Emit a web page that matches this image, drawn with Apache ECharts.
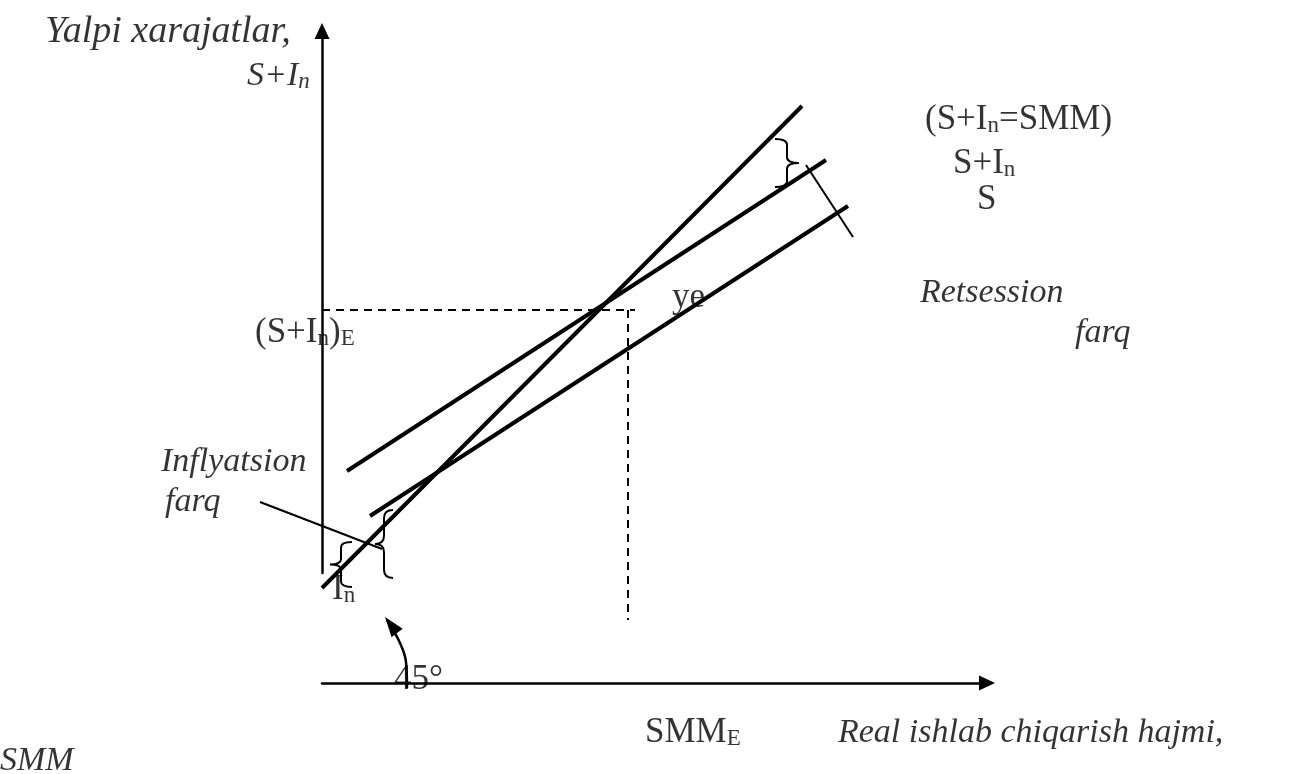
<!DOCTYPE html>
<html>
<head>
<meta charset="utf-8">
<script src="https://cdn.jsdelivr.net/npm/echarts@6/dist/echarts.min.js"></script>
<style>
  html, body { margin: 0; padding: 0; background: #fff; }
  #chart { width: 1311px; height: 774px; }
</style>
</head>
<body>
<div id="chart"></div>
<script>
  // diagram units: 1 unit = 1 px, origin where the axes meet
  const line45 = [[0, 95], [480, 577]];          // S+In = SMM
  const lineSIn = [[25, 212], [504, 523]];        // S+In
  const lineS = [[48, 167], [526, 477]];          // S
  const eqLevel = [[0, 373], [313, 373]];         // (S+In)E
  const eqOutput = [[306, 373], [306, 63]];       // SMM_E
  // thin helper strokes: x1, y1, x2, y2
  const thinStrokes = [[484, 518, 531, 446], [-62, 181, 60, 134]];
  const angleArc = [[85, -5], [84, 21], [78, 40], [65, 63]];
  const angleHead = [[63, 66, 76, 49]];           // tip x, tip y, back x, back y
  // braces: arms x, top y, bottom y, depth of the point
  const braces = [[30, 141, 96, -22], [71, 173, 105, -18], [453, 544, 496, 24]];

  const notes = [
    ['{il|Yalpi xarajatlar,}', -277, 652],
    ['{i|S+I}{is|n}', -75, 610],
    ['{r|(S+I}{rs|n}{r|=SMM)}', 603, 566],
    ['{r|S+I}{rs|n}', 631, 522],
    ['{r|S}', 655, 486],
    ['{r|ye}', 350, 388],
    ['{i|Retsession}', 598, 393],
    ['{i|farq}', 753, 353],
    ['{r|(S+I}{rs|n}{r|)}{rs|E}', -67, 353],
    ['{i|Inflyatsion}', -161, 224],
    ['{i|farq}', -157, 184],
    ['{r|I}{rs|n}', 10, 96],
    ['{r|45°}', 72, 6],
    ['{r|SMM}{rs|E}', 323, -47],
    ['{i|Real ishlab chiqarish hajmi,}', 516, -47],
    ['{i|SMM}', -322, -75]
  ];

  const font = "'Liberation Serif', 'Times New Roman', serif";
  const ink = '#000';

  function straight(name, data, width, type) {
    return {
      name: name,
      type: 'line',
      data: data,
      symbol: 'none',
      clip: false,
      silent: true,
      lineStyle: { color: ink, width: width, type: type || 'solid', cap: 'butt' }
    };
  }

  function txt(size, italic, lh, va) {
    return {
      fontFamily: font,
      fontStyle: italic ? 'italic' : 'normal',
      fontSize: size,
      color: ink,
      lineHeight: lh,
      verticalAlign: va
    };
  }

  let chart = echarts.init(document.getElementById('chart'), null, { renderer: 'canvas' });
  chart.setOption({
    animation: false,
    backgroundColor: '#fff',
    grid: { left: 322, right: 324, top: 31, bottom: 201 },
    xAxis: {
      type: 'value',
      min: 0,
      max: 665,
      offset: 110,
      axisLine: {
        show: true,
        onZero: false,
        symbol: ['none', 'triangle'],
        symbolSize: [15, 16],
        lineStyle: { color: ink, width: 2.5 }
      },
      axisTick: { show: false },
      axisLabel: { show: false },
      splitLine: { show: false }
    },
    yAxis: {
      type: 'value',
      min: 110,
      max: 652,
      axisLine: {
        show: true,
        onZero: false,
        symbol: ['none', 'triangle'],
        symbolSize: [15, 16],
        lineStyle: { color: ink, width: 2.5 }
      },
      axisTick: { show: false },
      axisLabel: { show: false },
      splitLine: { show: false }
    },
    series: [
      straight('45', line45, 4),
      straight('S+In', lineSIn, 4),
      straight('S', lineS, 4),
      straight('eqLevel', eqLevel, 2, [8, 6]),
      straight('eqOutput', eqOutput, 2, [8, 6]),
      Object.assign(straight('arc', angleArc, 2.5), { smooth: 0.4 }),
      {
        type: 'custom',
        silent: true,
        clip: false,
        data: thinStrokes,
        renderItem: function (params, api) {
          let a = api.coord([api.value(0), api.value(1)]);
          let b = api.coord([api.value(2), api.value(3)]);
          return {
            type: 'line',
            shape: { x1: a[0], y1: a[1], x2: b[0], y2: b[1] },
            style: { stroke: ink, lineWidth: 2 }
          };
        }
      },
      {
        type: 'custom',
        silent: true,
        clip: false,
        data: angleHead,
        renderItem: function (params, api) {
          let tip = api.coord([api.value(0), api.value(1)]);
          let back = api.coord([api.value(2), api.value(3)]);
          let dx = tip[0] - back[0], dy = tip[1] - back[1];
          let len = Math.sqrt(dx * dx + dy * dy);
          let ux = dx / len, uy = dy / len;
          let bx = tip[0] - ux * 20, by = tip[1] - uy * 20;
          return {
            type: 'polygon',
            shape: { points: [tip, [bx - uy * 7, by + ux * 7], [bx + uy * 7, by - ux * 7]] },
            style: { fill: ink }
          };
        }
      },
      {
        type: 'custom',
        silent: true,
        clip: false,
        data: braces,
        renderItem: function (params, api) {
          let top = api.coord([api.value(0), api.value(1)]);
          let bot = api.coord([api.value(0), api.value(2)]);
          let cusp = api.coord([api.value(0) + api.value(3), api.value(1)])[0];
          let x0 = top[0], xs = (x0 + cusp) / 2;
          let yt = top[1], yb = bot[1], ym = (yt + yb) / 2;
          let r = Math.min((yb - yt) * 0.12, Math.abs(cusp - x0) * 0.6);
          let d = 'M' + x0 + ' ' + yt +
            ' Q' + xs + ' ' + yt + ' ' + xs + ' ' + (yt + r) +
            ' L' + xs + ' ' + (ym - r) +
            ' Q' + xs + ' ' + ym + ' ' + cusp + ' ' + ym +
            ' Q' + xs + ' ' + ym + ' ' + xs + ' ' + (ym + r) +
            ' L' + xs + ' ' + (yb - r) +
            ' Q' + xs + ' ' + yb + ' ' + x0 + ' ' + yb;
          return {
            type: 'path',
            shape: { pathData: d },
            style: { stroke: ink, fill: null, lineWidth: 2 }
          };
        }
      },
      {
        type: 'scatter',
        silent: true,
        clip: false,
        symbolSize: 0,
        data: notes.map(function (n) {
          return { value: [n[1], n[2]], label: { formatter: n[0] } };
        }),
        label: {
          show: true,
          color: ink,
          position: [0, 0],
          align: 'left',
          verticalAlign: 'middle',
          rich: {
            r: txt(35, false, 40, 'bottom'),
            rs: txt(23, false, 24, 'bottom'),
            i: txt(34, true, 40, 'bottom'),
            il: txt(38, true, 40, 'bottom'),
            is: txt(23, true, 24, 'bottom')
          }
        }
      }
    ]
  });
  window.onresize = function () {
    chart.resize();
  };
</script>
</body>
</html>
